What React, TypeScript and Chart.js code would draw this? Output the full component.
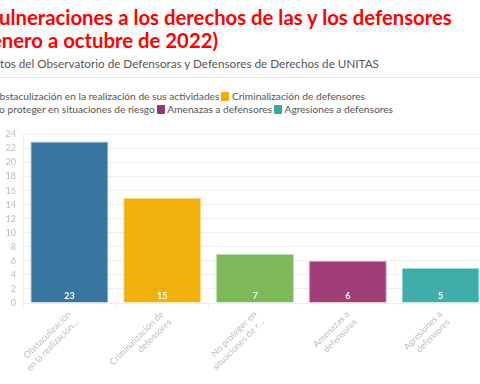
import React, { useEffect, useRef } from "react";
import { Chart, registerables } from "chart.js";

Chart.register(...registerables);

const titleLines = ["Vulneraciones a los derechos de las y los defensores", "(enero a octubre de 2022)"];
const subtitle = "Datos del Observatorio de Defensoras y Defensores de Derechos de UNITAS";
const categories = [
  "Obstaculización en la realización de sus actividades",
  "Criminalización de defensores",
  "No proteger en situaciones de riesgo",
  "Amenazas a defensores",
  "Agresiones a defensores",
];
const tickLabels = [
  ["Obstaculización", "en la realización…"],
  ["Criminalización de", "defensores"],
  ["No proteger en", "situaciones de r…"],
  ["Amenazas a", "defensores"],
  ["Agresiones a", "defensores"],
];
const values = [23, 15, 7, 6, 5];
const colors = ["#2d6f9b", "#f0ad00", "#76b54f", "#9a3470", "#36a9a6"];
const yMax = 24;
const yStep = 2;

const FONT = "Lato, 'Noto Sans', sans-serif";

function hexA(hex: string, a: number) {
  const n = parseInt(hex.slice(1), 16);
  return `rgba(${(n >> 16) & 255},${(n >> 8) & 255},${n & 255},${a})`;
}

const valueLabels = {
  id: "valueLabels",
  afterDatasetsDraw(chart: any) {
    const ctx = chart.ctx;
    const meta = chart.getDatasetMeta(0);
    ctx.save();
    ctx.fillStyle = "#ffffff";
    ctx.font = `bold 9px ${FONT}`;
    ctx.textAlign = "center";
    ctx.textBaseline = "middle";
    meta.data.forEach((bar: any, i: number) => {
      ctx.fillText(String(chart.data.datasets[0].data[i]), bar.x, bar.base - 6);
    });
    ctx.restore();
  },
};

export default function App() {
  const ref = useRef<HTMLCanvasElement | null>(null);
  useEffect(() => {
    if (!ref.current) return;
    const chart = new Chart(ref.current, {
      type: "bar",
      data: {
        labels: tickLabels,
        datasets: [
          {
            data: values,
            backgroundColor: colors.map((c) => hexA(c, 0.95)),
            borderColor: colors.map((c) => hexA(c, 0.45)),
            borderWidth: 1,
            barPercentage: 0.84,
            categoryPercentage: 1,
          },
        ],
      },
      options: {
        animation: false,
        responsive: false,
        layout: { padding: { top: 0, right: 13, left: 0, bottom: 0 } },
        plugins: { legend: { display: false }, tooltip: { enabled: false } },
        scales: {
          x: {
            afterFit: (s: any) => {
              s.height = 81;
            },
            grid: { display: true, drawOnChartArea: false, color: "#eeeeee", tickLength: 4 },
            border: { color: "#eeeeee" },
            ticks: {
              autoSkip: false,
              minRotation: 45,
              maxRotation: 45,
              color: "#bbbbbb",
              font: { family: FONT, size: 9 },
              padding: 2,
            },
          },
          y: {
            min: 0,
            max: yMax,
            afterFit: (s: any) => {
              s.width = 23;
            },
            grid: { color: "#eeeeee", drawTicks: false },
            border: { color: "#eeeeee" },
            ticks: {
              stepSize: yStep,
              color: "#bbbbbb",
              font: { family: FONT, size: 9 },
              padding: 7,
            },
          },
        },
      },
      plugins: [valueLabels],
    });
    return () => chart.destroy();
  }, []);

  return (
    <div
      style={{
        position: "fixed",
        left: 0,
        top: 0,
        width: 480,
        height: 384,
        overflow: "hidden",
        background: "#fff",
        fontFamily: FONT,
      }}
    >
      <div
        style={{
          position: "absolute",
          left: -14,
          top: 6,
          whiteSpace: "nowrap",
          color: "#ff0000",
          fontWeight: 700,
          fontSize: 20.3,
          lineHeight: "23px",
        }}
      >
        {titleLines.map((t, i) => (
          <div key={i}>{t}</div>
        ))}
      </div>
      <div
        style={{
          position: "absolute",
          left: -14.5,
          top: 55.5,
          whiteSpace: "nowrap",
          color: "#555555",
          fontSize: 11.7,
          lineHeight: "14px",
        }}
      >
        {subtitle}
      </div>
      <div style={{ position: "absolute", left: 0, top: 77, width: 480, height: 1, background: "#e6e6e6" }} />
      <div
        style={{
          position: "absolute",
          left: -19,
          top: 89.5,
          width: 415,
          display: "flex",
          flexWrap: "wrap",
          color: "#555555",
          fontSize: 10.2,
          lineHeight: "13px",
        }}
      >
        {categories.map((c, i) => (
          <span key={i} style={{ display: "inline-flex", alignItems: "center", marginRight: 2, whiteSpace: "nowrap" }}>
            <span
              style={{
                display: "inline-block",
                width: 8,
                height: 9,
                borderRadius: 1,
                background: colors[i],
                marginRight: 2.5,
              }}
            />
            {c}
          </span>
        ))}
      </div>
      <canvas
        ref={ref}
        width={500}
        height={262}
        style={{ position: "absolute", left: 0, top: 122, width: 500, height: 262 }}
      />
    </div>
  );
}
